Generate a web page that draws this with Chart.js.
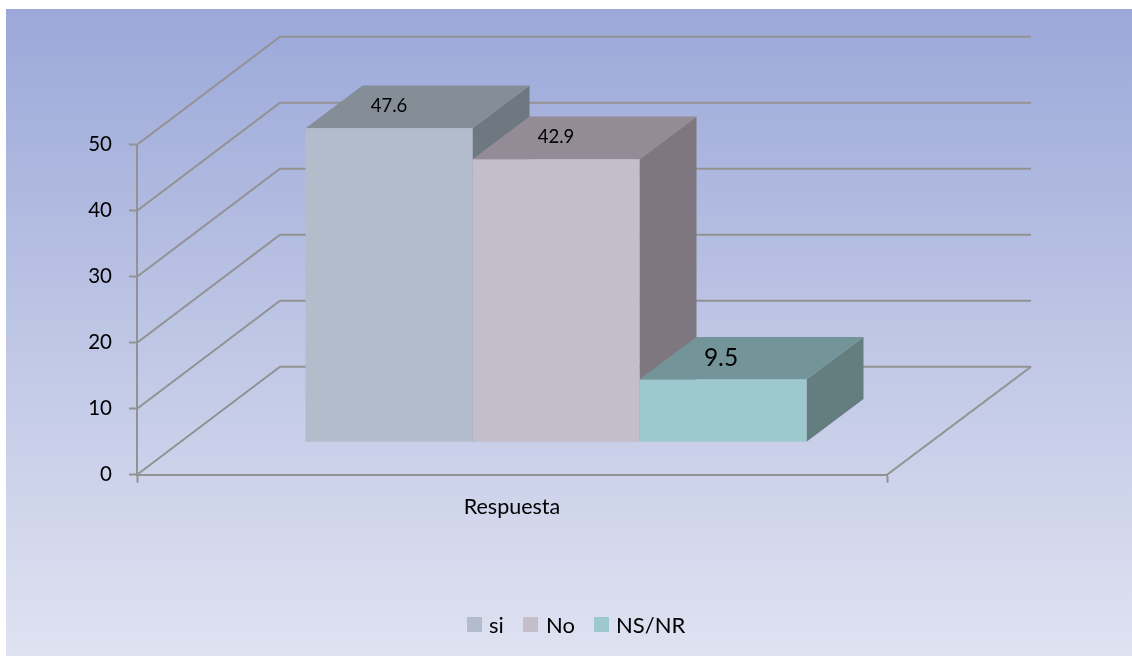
<!DOCTYPE html>
<html>
<head>
<meta charset="utf-8">
<title>Respuesta</title>
<script src="https://cdn.jsdelivr.net/npm/chart.js@4"></script>
<style>
  html, body { margin: 0; padding: 0; background: #fff; }
  canvas { display: block; }
</style>
</head>
<body>
<canvas id="respuestaChart" width="1132" height="656"></canvas>
<script>
// Chart data
const categories = ['Respuesta'];
const seriesNames = ['si', 'No', 'NS/NR'];
const siValues = [47.6];
const noValues = [42.9];
const nsnrValues = [9.5];
const yTicks = [0, 10, 20, 30, 40, 50];

// Face colours per series: front, top, side
const frontColors = ['#b3bccb', '#c4bdca', '#9dc8ce'];
const topColors = ['#858e97', '#938c96', '#739599'];
const sideColors = ['#6f7881', '#7e777f', '#647d7e'];
const labelSizes = [18.5, 18.5, 24.5];
const labelShiftX = [0, 0, -2];

const AXIS_COLOR = '#929292';
const FONT = 'Lato, "Open Sans", sans-serif';

// Oblique projection of the floor: back wall offset and where the bars stand
const WALL_DX = 143;
const WALL_DY = -108;
const BAR_DX = 44;
const BAR_DY = -32.4;
const BAR_DEPTH_DX = 57;
const BAR_DEPTH_DY = -42.7;

function polygon(ctx, points, color) {
  ctx.fillStyle = color;
  ctx.beginPath();
  points.forEach((p, i) => (i ? ctx.lineTo(p[0], p[1]) : ctx.moveTo(p[0], p[1])));
  ctx.closePath();
  ctx.fill();
}

// Panel behind everything, and the walls and floor lines
const backdrop = {
  id: 'backdrop',
  beforeDraw(chart) {
    const ctx = chart.ctx;
    const grad = ctx.createLinearGradient(0, 9, 0, 656);
    grad.addColorStop(0, '#9ba8d9');
    grad.addColorStop(0.5, '#bec6e5');
    grad.addColorStop(1, '#dfe2f1');
    ctx.fillStyle = grad;
    ctx.fillRect(6, 9, 1126, 647);
  },
  beforeDatasetsDraw(chart) {
    const ctx = chart.ctx;
    const { left, right, bottom } = chart.chartArea;
    const yScale = chart.scales.y;
    ctx.save();
    ctx.strokeStyle = AXIS_COLOR;
    ctx.lineWidth = 2;
    const backRight = 1031;
    yTicks.forEach((v) => {
      const y = yScale.getPixelForValue(v);
      ctx.beginPath();
      ctx.moveTo(left, y);
      ctx.lineTo(left + WALL_DX, y + WALL_DY);
      ctx.lineTo(backRight, y + WALL_DY);
      ctx.stroke();
    });
    ctx.beginPath();
    ctx.moveTo(right, bottom);
    ctx.lineTo(backRight, bottom + WALL_DY);
    ctx.stroke();
    ctx.restore();
  }
};

// Bars are pushed into the floor. Top and side faces go down first, left to right,
// then the library paints the front faces over them.
const bars3d = {
  id: 'bars3d',
  beforeDatasetsDraw(chart) {
    const ctx = chart.ctx;
    const dx = BAR_DEPTH_DX;
    const dy = BAR_DEPTH_DY;
    ctx.save();
    ctx.translate(BAR_DX, BAR_DY);
    seriesNames.forEach((name, i) => {
      const bar = chart.getDatasetMeta(i).data[0];
      const x0 = bar.x - bar.width / 2;
      const x1 = bar.x + bar.width / 2;
      polygon(ctx, [[x1, bar.y], [x1 + dx, bar.y + dy], [x1 + dx, bar.base + dy], [x1, bar.base]], sideColors[i]);
      polygon(ctx, [[x0, bar.y], [x1, bar.y], [x1 + dx, bar.y + dy], [x0 + dx, bar.y + dy]], topColors[i]);
    });
    ctx.restore();
  },
  beforeDatasetDraw(chart) {
    chart.ctx.save();
    chart.ctx.translate(BAR_DX, BAR_DY);
  },
  afterDatasetDraw(chart) {
    chart.ctx.restore();
  },
  afterDatasetsDraw(chart) {
    const ctx = chart.ctx;
    ctx.save();
    ctx.translate(BAR_DX, BAR_DY);
    ctx.fillStyle = '#000';
    ctx.textAlign = 'center';
    ctx.textBaseline = 'middle';
    seriesNames.forEach((name, i) => {
      const bar = chart.getDatasetMeta(i).data[0];
      ctx.font = labelSizes[i] + 'px ' + FONT;
      ctx.fillText(chart.data.datasets[i].data[0].toFixed(1), bar.x + labelShiftX[i], bar.y - 22);
    });
    ctx.restore();
  }
};

// Legend row under the plot
const legendRow = {
  id: 'legendRow',
  afterDraw(chart) {
    const ctx = chart.ctx;
    const boxX = [467, 523, 594];
    const textX = [489, 546, 616];
    ctx.save();
    ctx.font = '22px ' + FONT;
    ctx.textAlign = 'left';
    ctx.textBaseline = 'middle';
    seriesNames.forEach((name, i) => {
      ctx.fillStyle = frontColors[i];
      ctx.fillRect(boxX[i], 617, 15, 15);
      ctx.fillStyle = '#000';
      ctx.fillText(name, textX[i], 626);
    });
    ctx.restore();
  }
};

function makeDataset(i, values) {
  return {
    label: seriesNames[i],
    data: values,
    backgroundColor: frontColors[i],
    clip: false
  };
}

new Chart(document.getElementById('respuestaChart'), {
  type: 'bar',
  data: {
    labels: categories,
    datasets: [
      makeDataset(0, siValues),
      makeDataset(1, noValues),
      makeDataset(2, nsnrValues)
    ]
  },
  plugins: [backdrop, bars3d, legendRow],
  options: {
    responsive: false,
    animation: false,
    layout: { padding: { left: 0, top: 144.7, right: 245, bottom: 0 } },
    plugins: { legend: { display: false }, tooltip: { enabled: false }, title: { display: false } },
    datasets: { bar: { categoryPercentage: 0.668, barPercentage: 1 } },
    scales: {
      x: {
        afterFit(scale) { scale.height = 181.3; },
        grid: { offset: true, drawOnChartArea: false, drawTicks: true, tickLength: 8, tickColor: AXIS_COLOR, tickWidth: 2 },
        border: { display: true, color: AXIS_COLOR, width: 2 },
        ticks: { color: '#000', padding: 11, font: { family: FONT, size: 21.5 } }
      },
      y: {
        min: 0,
        max: 50,
        afterFit(scale) { scale.width = 137; },
        grid: { drawOnChartArea: false, drawTicks: true, tickLength: 8, tickColor: AXIS_COLOR, tickWidth: 2 },
        border: { display: true, color: AXIS_COLOR, width: 2 },
        afterBuildTicks(scale) { scale.ticks = yTicks.map((value) => ({ value })); },
        ticks: { color: '#000', padding: 17, font: { family: FONT, size: 20.5 } }
      }
    }
  }
});
</script>
</body>
</html>
